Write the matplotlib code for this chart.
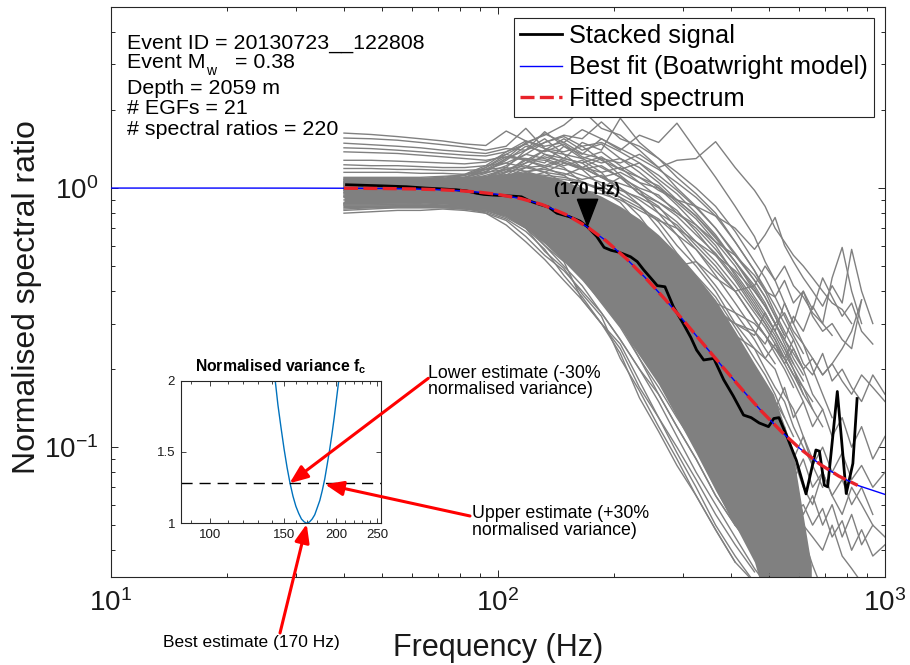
import numpy as np
import matplotlib
matplotlib.use('Agg')
import matplotlib.pyplot as plt
from matplotlib.lines import Line2D
from matplotlib.patches import FancyArrowPatch
from matplotlib.ticker import FixedLocator, NullFormatter, FixedFormatter

plt.rcParams['font.family'] = ['Liberation Sans', 'DejaVu Sans']
plt.rcParams['mathtext.fontset'] = 'custom'
plt.rcParams['mathtext.rm'] = 'Liberation Sans'
plt.rcParams['mathtext.it'] = 'Liberation Sans:italic'
plt.rcParams['mathtext.bf'] = 'Liberation Sans:bold'
plt.rcParams['axes.unicode_minus'] = False

# ---------------- data ----------------
GREY_FREQ = [40, 47, 55, 63, 72, 82, 93, 105, 118, 132, 148, 165, 185, 207, 232, 260, 290,
             325, 365, 410, 460, 490, 520, 550, 580, 615, 650, 690, 730, 775, 820, 870, 930, 1000]
GREY_RATIOS = [
    [1.63,1.61,1.58,1.55,1.52,1.48,1.46,1.66,1.52,1.45,1.50,1.36,1.30,1.12,0.98,0.80,0.66,0.52,0.42,0.33,0.26,0.22,0.20,0.16,0.14,0.11,0.09],
    [1.56,1.55,1.53,1.50,1.47,1.44,1.40,1.45,1.70,1.42,1.30,1.25,1.10,1.00,0.86,0.74,0.60,0.50,0.40,0.30,0.24,0.20,0.17,0.15,0.12,0.10,0.085,0.07],
    [1.49,1.47,1.45,1.43,1.40,1.38,1.36,1.42,1.40,1.55,1.35,1.20,1.15,0.95,0.86,0.70,0.56,0.46,0.38,0.29,0.22,0.19,0.16,0.13,0.11],
    [1.43,1.42,1.40,1.38,1.36,1.34,1.33,1.38,1.48,1.35,1.25,1.18,1.02,0.92,0.78,0.62,0.50,0.42,0.33,0.26,0.20,0.17,0.15,0.13],
    [1.38,1.37,1.36,1.34,1.32,1.30,1.28,1.32,1.30,1.28,1.20,1.05,0.98,0.88,0.72,0.58,0.48,0.40,0.31,0.24,0.19,0.16,0.14],
    [1.28,1.28,1.27,1.26,1.25,1.24,1.26,1.35,1.28,1.20,1.12,1.00,0.90,0.80,0.66,0.54,0.44,0.36,0.28,0.22,0.17,0.15,0.12,0.10],
    [1.23,1.22,1.22,1.21,1.20,1.20,1.22,1.25,1.20,1.15,1.05,0.95,0.85,0.74,0.62,0.50,0.40,0.32,0.25,0.19,0.15,0.13],
    [1.19,1.19,1.18,1.18,1.17,1.17,1.18,1.20,1.16,1.10,1.00,0.92,0.80,0.70,0.58,0.46,0.37,0.29,0.22,0.17,0.13],
    [1.15,1.15,1.15,1.14,1.14,1.13,1.15,1.18,1.12,1.06,0.98,0.88,0.78,0.66,0.55,0.44,0.35,0.27,0.20,0.15,0.12,0.10],
    [1.05,1.04,1.03,1.02,1.02,1.03,1.05,1.10,1.20,1.35,1.30,1.50,1.40,1.86,1.50,1.30,1.10,0.95,0.80,0.62,0.48,0.40,0.33,0.28,0.24,0.20,0.16,0.14],
    [1.00,1.00,0.99,0.99,1.00,1.02,1.06,1.15,1.30,1.25,1.45,1.35,1.55,1.40,1.60,1.50,1.78,1.40,1.10,0.85,0.65,0.52,0.44,0.36,0.30,0.25,0.20,0.16,0.13],
    [1.02,1.02,1.01,1.00,1.00,1.00,1.02,1.08,1.15,1.20,1.28,1.20,1.30,1.25,1.35,1.20,1.28,1.30,1.51,1.20,0.98,0.85,0.70,0.62,0.55,0.50,0.45,0.40,0.36,0.34,0.30],
    [0.98,0.98,0.98,0.98,0.98,0.99,1.00,1.05,1.10,1.15,1.12,1.20,1.10,1.15,1.05,1.00,0.90,0.85,0.78,0.70,0.58,0.66,0.77,0.60,0.52,0.45,0.40,0.35,0.42,0.36,0.58,0.40,0.30],
    [1.00,1.00,1.00,0.99,0.99,1.00,1.03,1.08,1.12,1.10,1.08,1.05,1.00,1.10,0.95,0.88,0.80,0.72,0.62,0.55,0.46,0.40,0.38,0.44,0.36,0.40,0.32,0.28,0.30,0.26,0.24,0.37],
    [0.96,0.96,0.96,0.96,0.97,0.98,1.00,1.03,1.06,1.08,1.02,0.98,0.95,0.90,0.82,0.75,0.70,0.62,0.55,0.48,0.40,0.35,0.30,0.33,0.28,0.25,0.22,0.19,0.21,0.18,0.16,0.19,0.17,0.15],
    [1.04,1.04,1.03,1.03,1.04,1.05,1.08,1.12,1.25,1.40,1.55,1.40,1.48,1.30,1.20,1.05,0.90,0.78,0.65,0.52,0.42,0.36,0.30,0.26,0.23,0.20],
    [1.06,1.06,1.05,1.05,1.06,1.08,1.10,1.20,1.40,1.65,1.45,1.30,1.20,1.10,0.95,0.85,0.70,0.58,0.46,0.36,0.28,0.24,0.21],
    [1.08,1.08,1.07,1.07,1.08,1.10,1.15,1.30,1.50,1.60,1.75,2.00,1.70,1.60,1.40,1.20,1.00,0.85,0.70,0.55,0.44,0.38,0.32,0.27],
    [1.10,1.10,1.10,1.10,1.11,1.12,1.18,1.25,1.35,1.50,1.60,1.55,1.80,1.55,1.45,1.30,1.15,1.00,0.85,0.68,0.52,0.45,0.38,0.32,0.27,0.23],
    [1.00,1.00,0.99,0.98,0.97,0.96,0.95,0.95,0.93,0.90,0.86,0.80,0.74,0.66,0.60,0.55,0.50,0.52,0.45,0.40,0.42,0.50,0.44,0.50,0.42,0.38,0.33,0.30,0.27],
    [0.95,0.95,0.95,0.94,0.94,0.93,0.92,0.90,0.88,0.84,0.78,0.72,0.65,0.58,0.50,0.44,0.40,0.36,0.33,0.30,0.28,0.25,0.30,0.26,0.32,0.28,0.35,0.30,0.45,0.59,0.40,0.30],
    [0.93,0.93,0.93,0.92,0.92,0.91,0.90,0.88,0.85,0.80,0.74,0.68,0.60,0.52,0.45,0.40,0.36,0.32,0.30,0.27,0.24,0.22,0.25,0.21,0.24,0.20,0.22,0.19,0.21,0.24,0.28,0.37],
    [1.01,1.01,1.00,1.00,0.99,0.99,0.98,0.97,0.95,0.92,0.88,0.82,0.75,0.68,0.60,0.52,0.45,0.40,0.36,0.33,0.30,0.27,0.24,0.22,0.26,0.21,0.19,0.23,0.18,0.20,0.17,0.15,0.19,0.16],
    [0.98,0.98,0.98,0.97,0.97,0.96,0.96,0.95,0.92,0.89,0.84,0.78,0.70,0.62,0.55,0.48,0.42,0.38,0.34,0.30,0.27,0.33,0.28,0.36,0.30,0.40,0.34,0.45,0.38,0.32,0.36,0.28,0.25],
    [0.80,0.81,0.82,0.82,0.83,0.82,0.80,0.75,0.65,0.55,0.48,0.40,0.33,0.26,0.20,0.16,0.12,0.09,0.065,0.05,0.04,0.034],
    [0.84,0.84,0.84,0.84,0.84,0.83,0.82,0.78,0.72,0.60,0.52,0.37,0.30,0.25,0.18,0.13,0.10,0.075,0.055,0.042,0.033],
    [0.86,0.86,0.86,0.86,0.85,0.84,0.83,0.80,0.74,0.68,0.58,0.50,0.40,0.30,0.22,0.17,0.13,0.10,0.075,0.058,0.045,0.038,0.034],
    [0.87,0.87,0.86,0.86,0.86,0.85,0.84,0.82,0.76,0.70,0.60,0.52,0.46,0.34,0.28,0.20,0.14,0.098,0.07,0.05],
    [0.85,0.85,0.85,0.85,0.85,0.84,0.80,0.72,0.62,0.53,0.44,0.37,0.30,0.23,0.155,0.115,0.085,0.065,0.048,0.036],
    [1.02,1.02,1.01,1.00,1.00,0.99,0.98,0.96,0.93,0.88,0.82,0.75,0.66,0.57,0.48,0.40,0.32,0.26,0.20,0.16,0.12,0.10,0.085,0.075,0.09,0.07,0.06,0.08,0.065,0.055,0.07,0.06,0.05,0.045],
    [0.97,0.97,0.97,0.96,0.96,0.95,0.94,0.92,0.88,0.83,0.76,0.68,0.60,0.50,0.42,0.34,0.27,0.21,0.16,0.12,0.09,0.075,0.065,0.055,0.07,0.05,0.045,0.04,0.05,0.038,0.034,0.03],
    [0.99,0.99,0.99,0.98,0.98,0.98,0.97,0.95,0.92,0.87,0.80,0.72,0.63,0.55,0.47,0.40,0.34,0.29,0.25,0.21,0.18,0.16,0.14,0.17,0.13,0.15,0.12,0.14,0.11,0.13,0.10,0.12,0.09,0.11],
    [0.94,0.94,0.94,0.93,0.93,0.92,0.91,0.89,0.85,0.79,0.72,0.64,0.55,0.46,0.38,0.30,0.25,0.20,0.16,0.13,0.11,0.095,0.08,0.10,0.075,0.09,0.07,0.08,0.065,0.075,0.06,0.07,0.055],
    [0.92,0.92,0.92,0.91,0.91,0.90,0.89,0.86,0.82,0.76,0.68,0.60,0.50,0.40,0.32,0.25,0.19,0.14,0.10,0.07,0.055,0.045,0.05,0.035,0.04,0.028],
    [0.90,0.90,0.90,0.90,0.89,0.88,0.87,0.84,0.79,0.72,0.64,0.55,0.46,0.37,0.29,0.22,0.17,0.13,0.095,0.07,0.05,0.06,0.045,0.05,0.038,0.045,0.035,0.028],
    [1.05,1.05,1.05,1.06,1.08,1.12,1.20,1.32,1.28,1.40,1.35,1.30,1.38,1.22,1.10,1.02,0.88,0.76,0.62,0.50,0.38,0.33,0.28,0.24,0.20,0.17,0.14],
    [1.03,1.03,1.03,1.04,1.05,1.08,1.14,1.22,1.35,1.30,1.22,1.28,1.15,1.20,1.05,0.92,0.82,0.68,0.55,0.44,0.34,0.30,0.26,0.22,0.19],
    [1.07,1.07,1.06,1.06,1.07,1.10,1.16,1.28,1.45,1.38,1.48,1.32,1.25,1.30,1.15,1.00,0.86,0.72,0.60,0.46,0.36,0.31,0.27,0.23,0.20,0.16],
    [1.01,1.01,1.01,1.01,1.02,1.04,1.08,1.15,1.20,1.22,1.18,1.12,1.05,0.98,0.92,0.84,0.74,0.62,0.52,0.42,0.33,0.29,0.25,0.22,0.19,0.16,0.14,0.12],
    [1.09,1.09,1.09,1.09,1.10,1.13,1.22,1.38,1.52,1.42,1.38,1.45,1.28,1.18,1.25,1.08,0.95,0.80,0.66,0.52,0.41,0.35,0.30,0.25,0.21,0.18],
    [0.99,0.99,0.99,0.99,1.00,1.02,1.05,1.10,1.14,1.12,1.10,1.06,0.98,0.92,0.84,0.76,0.66,0.58,0.48,0.40,0.31,0.27,0.24,0.21,0.18,0.15],
    [1.04,1.04,1.04,1.04,1.05,1.07,1.12,1.18,1.25,1.32,1.26,1.18,1.22,1.10,1.00,0.94,0.80,0.70,0.58,0.47,0.37,0.32,0.28,0.24,0.21],
    [1.02,1.02,1.02,1.02,1.03,1.05,1.10,1.18,1.22,1.15,1.25,1.20,1.10,1.04,0.98,0.88,0.78,0.66,0.56,0.45,0.35,0.30,0.26,0.22,0.19,0.17,0.15],
    [1.06,1.06,1.06,1.06,1.07,1.10,1.18,1.30,1.40,1.50,1.58,1.45,1.50,1.38,1.25,1.12,0.98,0.84,0.70,0.56,0.44,0.38,0.32,0.27],
    [1.00,1.00,1.00,1.00,1.01,1.03,1.07,1.12,1.16,1.18,1.14,1.08,1.12,1.00,0.90,0.80,0.72,0.60,0.50,0.40,0.31,0.27,0.23,0.20,0.17],
    [1.08,1.08,1.08,1.08,1.09,1.12,1.20,1.35,1.48,1.62,1.50,1.68,1.55,1.42,1.30,1.18,1.05,0.92,0.78,0.62,0.48,0.41,0.35,0.30,0.26],
    [1.03,1.03,1.03,1.03,1.04,1.06,1.10,1.16,1.28,1.22,1.30,1.25,1.32,1.18,1.10,0.98,0.90,0.78,0.64,0.52,0.40,0.35,0.30,0.26,0.22,0.19],
    [0.82,0.83,0.84,0.84,0.84,0.83,0.81,0.76,0.68,0.58,0.46,0.38,0.30,0.24,0.17,0.13,0.095,0.07,0.05,0.038,0.03],
    [0.86,0.86,0.86,0.86,0.85,0.84,0.82,0.77,0.70,0.60,0.50,0.42,0.33,0.26,0.20,0.15,0.11,0.08,0.06,0.045,0.034,0.03],
    [0.87,0.87,0.87,0.87,0.86,0.85,0.83,0.79,0.72,0.63,0.54,0.45,0.36,0.29,0.22,0.16,0.12,0.09,0.065,0.05,0.04,0.034,0.03],
    [0.83,0.84,0.85,0.85,0.85,0.84,0.82,0.78,0.70,0.57,0.49,0.39,0.32,0.22,0.165,0.12,0.09,0.065,0.048,0.036,0.03],
    [0.88,0.88,0.88,0.88,0.87,0.86,0.84,0.80,0.74,0.66,0.57,0.48,0.39,0.31,0.24,0.18,0.135,0.10,0.075,0.056,0.044,0.038,0.032,0.03],
    [0.96,0.96,0.96,0.95,0.95,0.94,0.93,0.91,0.87,0.81,0.74,0.66,0.57,0.48,0.40,0.32,0.26,0.20,0.15,0.11,0.085,0.07,0.06,0.07,0.055,0.06,0.05,0.058,0.045,0.052,0.04,0.048,0.038,0.042],
    [0.93,0.93,0.93,0.93,0.92,0.91,0.90,0.88,0.84,0.78,0.70,0.62,0.53,0.44,0.36,0.29,0.23,0.18,0.14,0.10,0.08,0.068,0.075,0.06,0.07,0.055,0.065,0.05,0.06,0.045,0.055,0.042,0.05],
    [1.00,1.00,0.99,0.99,0.98,0.98,0.97,0.95,0.92,0.87,0.80,0.72,0.64,0.55,0.46,0.38,0.31,0.25,0.20,0.16,0.13,0.11,0.10,0.12,0.09,0.11,0.085,0.10,0.08,0.095,0.075,0.085,0.07,0.08],
]
# dense core of the 220 overlapping spectral ratios
CORE_FREQ = [40, 55, 72, 93, 105, 118, 132, 148, 165, 185, 207, 232, 260, 290, 325, 365, 410, 460, 515, 575, 645]
CORE_LOW = [0.88, 0.88, 0.87, 0.83, 0.78, 0.70, 0.61, 0.52, 0.44, 0.36, 0.29, 0.225, 0.175, 0.13, 0.095,
            0.068, 0.05, 0.036, 0.02, 0.02, 0.02]
CORE_HIGH = [1.10, 1.10, 1.10, 1.12, 1.14, 1.15, 1.12, 1.07, 1.00, 0.93, 0.85, 0.76, 0.66, 0.56, 0.46,
             0.37, 0.28, 0.21, 0.16, 0.10, 0.035]

STACK_FREQ = [40.6, 45, 50, 58, 65, 71, 78, 83, 88, 92, 97, 103, 110, 115, 121, 128, 135, 142, 153, 163,
              170, 180, 188, 196, 204, 212, 220, 229, 238, 248, 258, 270, 284, 301, 315, 326, 340, 361,
              383, 405, 431, 451, 473, 500, 516, 532, 558, 590, 625, 663, 677, 697, 711, 753, 794, 826, 847]
STACK_RATIO = [1.03, 1.025, 1.02, 1.012, 1.0, 0.993, 0.985, 0.975, 0.955, 0.945, 0.94, 0.935, 0.93, 0.925,
               0.89, 0.865, 0.845, 0.80, 0.775, 0.745, 0.71, 0.65, 0.59, 0.575, 0.567, 0.555, 0.543, 0.52,
               0.483, 0.45, 0.42, 0.416, 0.348, 0.30, 0.265, 0.237, 0.217, 0.220, 0.182, 0.158, 0.133,
               0.130, 0.124, 0.120, 0.129, 0.130, 0.110, 0.089, 0.066, 0.0975, 0.0965, 0.0713, 0.0703,
               0.164, 0.0662, 0.0865, 0.154]

FIT_FREQ = [10, 20, 30, 40, 50, 60, 70, 80, 90, 100, 115, 130, 150, 170, 190, 215, 240, 270, 300, 340,
            380, 430, 480, 540, 600, 680, 760, 850, 1000]
FIT_RATIO = [1.0, 0.9999, 0.9995, 0.9985, 0.9963, 0.9924, 0.986, 0.9764, 0.9629, 0.9452, 0.9096, 0.8637,
             0.7898, 0.7083, 0.6267, 0.5325, 0.4515, 0.3726, 0.3109, 0.2492, 0.2046, 0.1651, 0.1375,
             0.1148, 0.0993, 0.0858, 0.0773, 0.0712, 0.0657]
FITTED_RANGE = (40, 850)
FC_BEST = 170
FC_MARK_Y = 0.81

VAR_FC = [140, 142.5, 145, 147.5, 150, 152.5, 155, 157.5, 160, 162.5, 165, 167.5, 170, 172.5, 175, 177.5,
          180, 182.5, 185, 187.5, 190, 192.5, 195, 197.5, 200, 202.5, 205]
VAR_NORM = [2.24, 2.03, 1.83, 1.67, 1.52, 1.39, 1.28, 1.19, 1.12, 1.07, 1.03, 1.01, 1.00, 1.01, 1.03, 1.06,
            1.11, 1.16, 1.23, 1.31, 1.41, 1.51, 1.62, 1.74, 1.87, 2.00, 2.15]
VAR_THRESHOLD = 1.28

W, H = 910, 665
fig = plt.figure(figsize=(W / 100, H / 100), dpi=100)


def fx(px):
    return px / W


def fy(py):
    return 1 - py / H


AX_L, AX_R, AX_T, AX_B = 111, 885, 6.7, 576.7
ax = fig.add_axes([fx(AX_L), fy(AX_B), fx(AX_R) - fx(AX_L), fy(AX_T) - fy(AX_B)])
ax.set_xscale('log')
ax.set_yscale('log')

grey = '#808080'
ax.fill_between(CORE_FREQ, CORE_LOW, CORE_HIGH, color=grey, lw=0, zorder=1)
for vals in GREY_RATIOS:
    ax.plot(GREY_FREQ[:len(vals)], vals, color=grey, lw=1.0, zorder=2)

ax.plot(STACK_FREQ, STACK_RATIO, color='black', lw=2.0, zorder=3)
ax.plot(FIT_FREQ, FIT_RATIO, color='blue', lw=1.0, zorder=4)
ff = [f for f in FIT_FREQ if FITTED_RANGE[0] <= f <= FITTED_RANGE[1]]
fr = [r for f, r in zip(FIT_FREQ, FIT_RATIO) if FITTED_RANGE[0] <= f <= FITTED_RANGE[1]]
ax.plot(ff, fr, color='#e8232a', lw=2.4, dashes=(4.2, 1.6), zorder=5)

tri = [(-0.77, 1), (0.77, 1), (0, -1), (-0.77, 1)]
ax.plot([FC_BEST], [FC_MARK_Y], marker=tri, markersize=19, color='black', ls='none', zorder=6)
ax.text(FC_BEST, FC_MARK_Y * 1.17, f'({FC_BEST} Hz)', ha='center', va='baseline',
        fontsize=12.4, fontweight='bold', zorder=7)

ax.set_xlim(10, 1000)
ax.set_ylim(10 ** -1.5, 10 ** 0.7)
for s in ax.spines.values():
    s.set_color('#262626')
    s.set_linewidth(0.8)
ax.tick_params(which='both', direction='in', top=True, right=True, color='#262626',
               labelcolor='#1a1a1a', width=0.7)
ax.tick_params(which='major', length=5, labelsize=20)
ax.tick_params(which='minor', length=3.2)
ax.tick_params(axis='x', which='major', pad=9)
ax.tick_params(axis='y', which='major', pad=9)

ax.set_xlabel('Frequency (Hz)', fontsize=22, color='#1a1a1a')
ax.xaxis.set_label_coords(0.5, (AX_B - 633) / (AX_B - AX_T))
ax.set_ylabel('Normalised spectral ratio', fontsize=23, color='#1a1a1a')
ax.yaxis.set_label_coords((42 - AX_L) / (AX_R - AX_L), (AX_B - 297) / (AX_B - AX_T))

# legend
handles = [Line2D([], [], color='black', lw=2.0),
           Line2D([], [], color='blue', lw=1.0),
           Line2D([], [], color='#e8232a', lw=2.4, dashes=(4.2, 1.6))]
labels = ['Stacked signal', 'Best fit (Boatwright model)', 'Fitted spectrum']
leg = ax.legend(handles, labels, loc='upper right', bbox_to_anchor=(fx(874), fy(18)),
                bbox_transform=fig.transFigure, fontsize=18.3, frameon=True, fancybox=False,
                framealpha=1, edgecolor='#262626', borderpad=0.25, labelspacing=0.28,
                handlelength=1.65, handletextpad=0.25, borderaxespad=0)
leg.get_frame().set_linewidth(0.8)

# event info text
TX = 127
FS = 15.4
fig.text(fx(TX), fy(48.3), 'Event ID = 20130723__122808', fontsize=FS, va='baseline')
fig.text(fx(TX), fy(68.3), 'Event M', fontsize=FS, va='baseline')
fig.text(fx(206.5), fy(75.3), 'w', fontsize=10, va='baseline')
fig.text(fx(235), fy(68.3), '= 0.38', fontsize=FS, va='baseline')
fig.text(fx(TX), fy(94.2), 'Depth = 2059 m', fontsize=FS, va='baseline')
fig.text(fx(TX), fy(114.4), '# EGFs = 21', fontsize=FS, va='baseline')
fig.text(fx(TX), fy(134.6), '# spectral ratios = 220', fontsize=FS, va='baseline')

# inset
IL, IR, IT, IB = 180.7, 380.7, 380.7, 523.3
ax2 = fig.add_axes([fx(IL), fy(IB), fx(IR) - fx(IL), fy(IT) - fy(IB)])
ax2.set_xscale('log')
ax2.plot(VAR_FC, VAR_NORM, color='#0072BD', lw=1.0)
ax2.axhline(VAR_THRESHOLD, color='black', lw=1.0, dashes=(8, 5))
ax2.set_xlim(FC_BEST / 2, FC_BEST * 1.5)
ax2.set_ylim(1, 2)
ax2.xaxis.set_major_locator(FixedLocator([100, 150, 200, 250]))
ax2.xaxis.set_major_formatter(FixedFormatter(['100', '150', '200', '250']))
ax2.xaxis.set_minor_locator(FixedLocator([90, 110, 120, 130, 140, 160, 170, 180, 190, 210, 220, 230, 240]))
ax2.xaxis.set_minor_formatter(NullFormatter())
ax2.set_yticks([1, 1.5, 2])
ax2.set_yticklabels(['1', '1.5', '2'])
for s in ax2.spines.values():
    s.set_color('#262626')
    s.set_linewidth(0.8)
ax2.tick_params(which='both', direction='in', top=True, right=True, color='#262626',
                labelcolor='#1a1a1a', width=0.6, labelsize=9.5, pad=4)
ax2.tick_params(which='major', length=3.5)
ax2.tick_params(which='minor', length=2)
ax2.set_title('Normalised variance f$_\\mathbf{c}$', fontsize=11.3, fontweight='bold', pad=7)


# red annotation arrows
def arrow(tail, head):
    p = FancyArrowPatch((fx(tail[0]), fy(tail[1])), (fx(head[0]), fy(head[1])),
                        transform=fig.transFigure, arrowstyle='-|>,head_length=0.55,head_width=0.22',
                        mutation_scale=20, color='red', lw=2.2, shrinkA=0, shrinkB=0, zorder=10)
    fig.add_artist(p)


arrow((428.3, 378.3), (289.5, 483.3))
arrow((470, 516), (325, 484.3))
arrow((280, 633), (306.7, 524))

fig.text(fx(428.3), fy(377.5), 'Lower estimate (-30%', fontsize=12.8, va='baseline')
fig.text(fx(428.3), fy(393.5), 'normalised variance)', fontsize=12.8, va='baseline')
fig.text(fx(472), fy(518.5), 'Upper estimate (+30%', fontsize=12.8, va='baseline')
fig.text(fx(472), fy(535), 'normalised variance)', fontsize=12.8, va='baseline')
fig.text(fx(162.7), fy(647.3), 'Best estimate (170 Hz)', fontsize=12.5, va='baseline')

fig.savefig('out.png', dpi=100)
